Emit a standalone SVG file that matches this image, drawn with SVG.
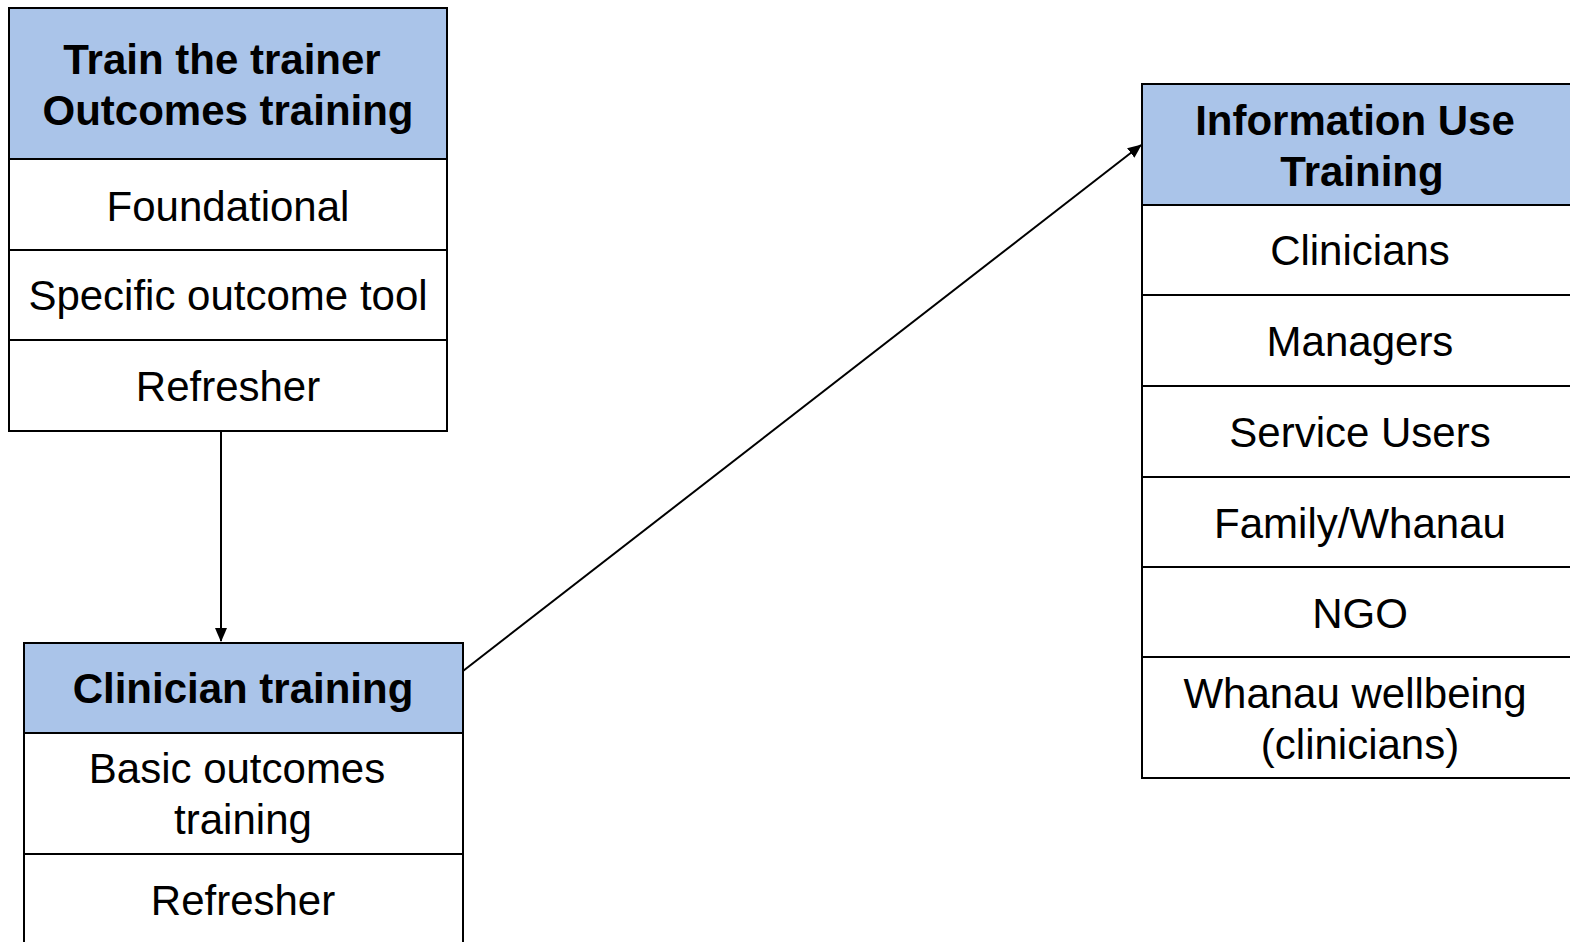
<svg xmlns="http://www.w3.org/2000/svg" width="1570" height="942" viewBox="0 0 1570 942">
<style>
.hdr{fill:#aac4e9;stroke:#000;stroke-width:2}
.row{fill:#fff;stroke:#000;stroke-width:2}
.t{font-family:"Liberation Sans",Arial,sans-serif;font-size:42px;fill:#000;text-anchor:middle}
.b{font-weight:bold}
.c{stroke:#000;stroke-width:2;fill:none}
</style>
<defs>
<marker id="ah" markerWidth="14" markerHeight="12" refX="13" refY="6" orient="auto" markerUnits="userSpaceOnUse">
<path d="M0,0 L14,6 L0,12 z" fill="#000"/>
</marker>
</defs>
<rect width="1570" height="942" fill="#fff"/>
<g id="connectors">
<line class="c" x1="221" y1="432" x2="221" y2="641" marker-end="url(#ah)"/>
<line class="c" x1="463" y1="671" x2="1141" y2="145" marker-end="url(#ah)"/>
</g>
<g id="train-the-trainer">
<rect class="hdr" x="9" y="8" width="438" height="151"/>
<rect class="row" x="9" y="159" width="438" height="91"/>
<rect class="row" x="9" y="250" width="438" height="90"/>
<rect class="row" x="9" y="340" width="438" height="91"/>
<text class="t b" x="222" y="74">Train the trainer</text>
<text class="t b" x="228" y="125">Outcomes training</text>
<text class="t" x="228" y="221">Foundational</text>
<text class="t" x="228" y="310">Specific outcome tool</text>
<text class="t" x="228" y="401">Refresher</text>
</g>
<g id="clinician-training">
<rect class="hdr" x="24" y="643" width="439" height="90"/>
<rect class="row" x="24" y="733" width="439" height="121"/>
<rect class="row" x="24" y="854" width="439" height="100"/>
<text class="t b" x="243" y="703">Clinician training</text>
<text class="t" x="237" y="783">Basic outcomes</text>
<text class="t" x="243" y="834">training</text>
<text class="t" x="243" y="915">Refresher</text>
</g>
<g id="information-use-training">
<rect class="hdr" x="1142" y="84" width="440" height="121"/>
<rect class="row" x="1142" y="205" width="440" height="90"/>
<rect class="row" x="1142" y="295" width="440" height="91"/>
<rect class="row" x="1142" y="386" width="440" height="91"/>
<rect class="row" x="1142" y="477" width="440" height="90"/>
<rect class="row" x="1142" y="567" width="440" height="90"/>
<rect class="row" x="1142" y="657" width="440" height="121"/>
<text class="t b" x="1355" y="135">Information Use</text>
<text class="t b" x="1362" y="186">Training</text>
<text class="t" x="1360" y="265">Clinicians</text>
<text class="t" x="1360" y="356">Managers</text>
<text class="t" x="1360" y="447">Service Users</text>
<text class="t" x="1360" y="538">Family/Whanau</text>
<text class="t" x="1360" y="628">NGO</text>
<text class="t" x="1355" y="708">Whanau wellbeing</text>
<text class="t" x="1360" y="759">(clinicians)</text>
</g>
</svg>
